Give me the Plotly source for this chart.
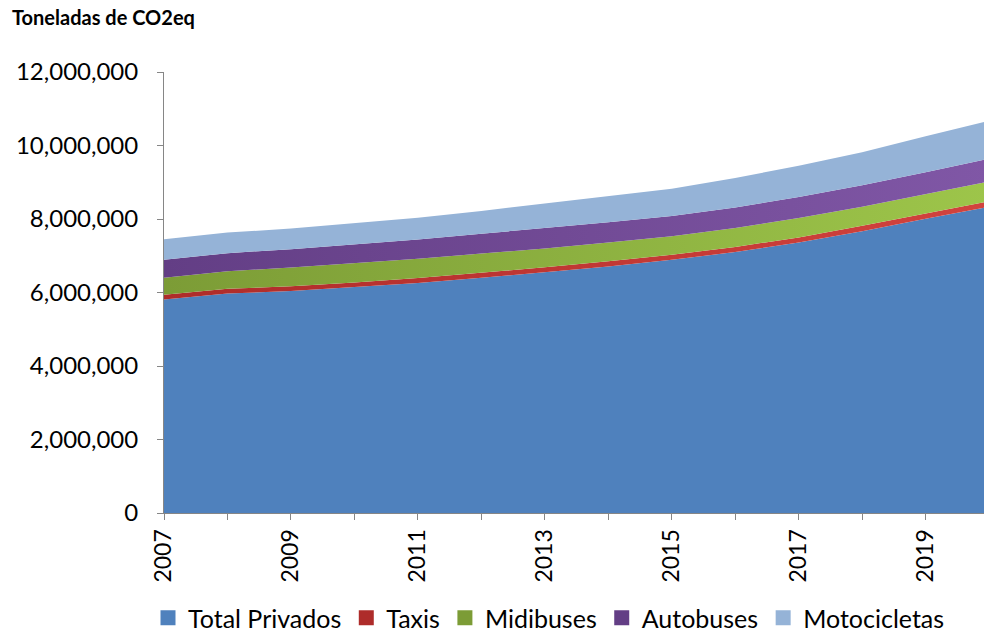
import plotly.graph_objects as go

years = list(range(2007, 2021))
total_privados = [5810000, 5970000, 6040000, 6140000, 6260000, 6400000, 6550000,
                  6710000, 6890000, 7100000, 7360000, 7670000, 8010000, 8330000]
taxis = [130000, 130000, 130000, 130000, 135000, 135000, 135000,
         140000, 140000, 140000, 140000, 145000, 145000, 150000]
midibuses = [460000, 480000, 510000, 520000, 520000, 525000, 510000,
             510000, 500000, 515000, 530000, 520000, 530000, 540000]
autobuses = [490000, 490000, 500000, 520000, 530000, 540000, 555000,
             550000, 550000, 560000, 570000, 580000, 590000, 620000]
motocicletas = [560000, 560000, 560000, 570000, 590000, 620000, 670000,
                700000, 740000, 800000, 850000, 900000, 980000, 1030000]

series = [
    ("Total Privados", total_privados, "#4F81BD", None),
    ("Taxis", taxis, "#C0392F", ("#AE2C2A", "#D2433E")),
    ("Midibuses", midibuses, "#8DB043", ("#7C9C36", "#9DC54A")),
    ("Autobuses", autobuses, "#74519A", ("#633E85", "#8057A6")),
    ("Motocicletas", motocicletas, "#95B3D7", None),
]

FONT = "Lato"
fig = go.Figure()
for name, vals, color, grad in series:
    kw = dict(x=years, y=vals, name=name, mode="lines", stackgroup="one",
              line=dict(width=0, color=color), fillcolor=color,
              legendgroup=name, showlegend=False)
    if grad:
        kw["fillgradient"] = dict(type="horizontal",
                                  colorscale=[[0, grad[0]], [1, grad[1]]])
    fig.add_trace(go.Scatter(**kw))

# legend entries as square swatches
for name, vals, color, grad in series:
    fig.add_trace(go.Scatter(x=[None], y=[None], mode="markers", name=name,
                             legendgroup=name, showlegend=True,
                             marker=dict(symbol="square", size=15,
                                         color=grad[0] if grad else color)))

fig.update_layout(
    width=984, height=632,
    margin=dict(l=164, r=0, t=72, b=119, autoexpand=False),
    paper_bgcolor="white", plot_bgcolor="white",
    font=dict(family=FONT, color="#000000", size=23),
    title=dict(text="<b>Toneladas de CO2eq</b>", xref="container", x=12/984,
               xanchor="left", yref="container", y=1-18/632, yanchor="middle",
               font=dict(family=FONT, size=20, color="#000000")),
    legend=dict(orientation="h", xref="container", x=549/984, xanchor="center",
                yref="container", y=1-618/632, yanchor="middle",
                font=dict(family=FONT, size=25), traceorder="normal",
                itemwidth=30, tracegroupgap=0, bgcolor="rgba(0,0,0,0)"),
    showlegend=True,
)
fig.update_xaxes(range=[2007, 2019.92], dtick=2, tick0=2007, tickangle=-90,
                 automargin=False,
                 showgrid=False, zeroline=False, showline=True,
                 linecolor="#868686", linewidth=1, ticks="outside", ticklen=6,
                 tickcolor="#868686",
                 minor=dict(dtick=1, tick0=2007, ticks="outside", ticklen=6,
                            tickcolor="#868686", showgrid=False),
                 tickfont=dict(family=FONT, size=23))
fig.update_yaxes(range=[0, 12000000], dtick=2000000, tickformat=",",
                 automargin=False, ticklabelstandoff=14,
                 showgrid=False, zeroline=False, showline=True,
                 linecolor="#868686", linewidth=1, ticks="outside", ticklen=6,
                 tickcolor="#868686", tickfont=dict(family=FONT, size=24))

fig.write_html("out.html", config={"displayModeBar": False},
               post_script="document.body.style.margin='0';"
                           "document.body.style.overflow='hidden';")
